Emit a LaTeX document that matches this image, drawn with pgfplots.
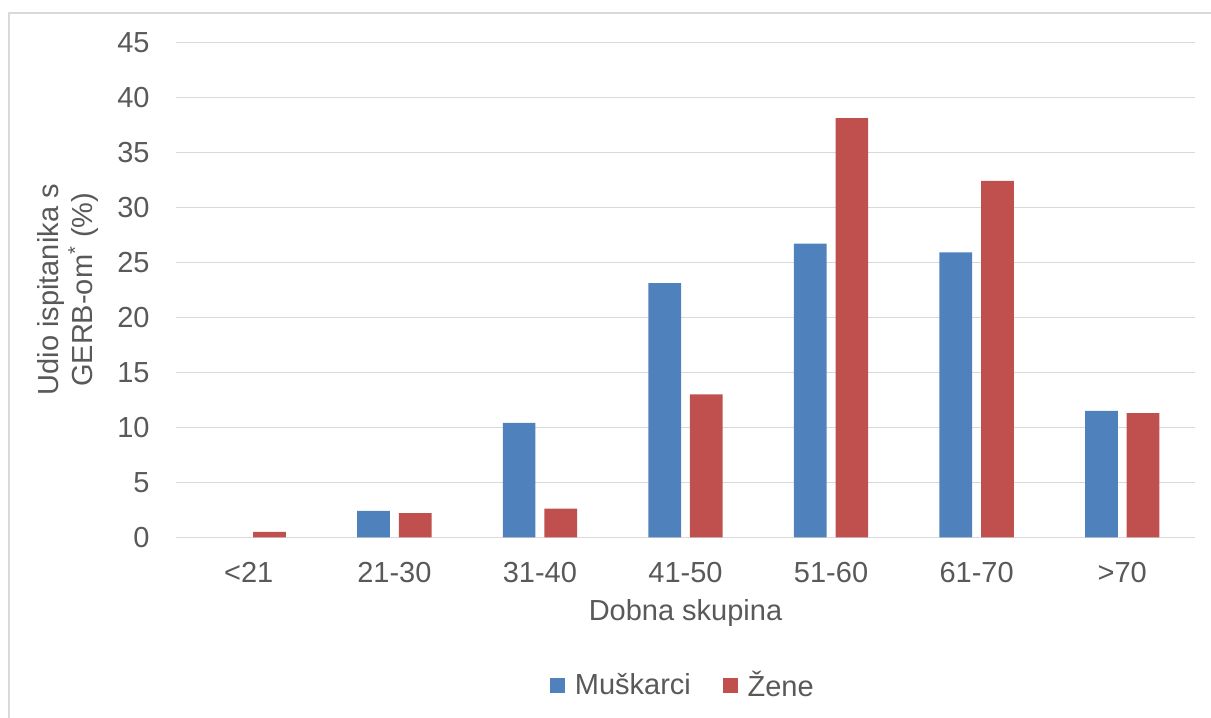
\documentclass[border=0pt]{standalone}
\usepackage{fontspec}
\setmainfont{Liberation Sans}
\usepackage{pgfplots}
\pgfplotsset{compat=1.18}
\definecolor{muski}{HTML}{4F81BD}
\definecolor{zene}{HTML}{C0504D}
\definecolor{txt}{HTML}{595959}
\definecolor{grd}{HTML}{D9D9D9}
\begin{document}
\begin{tikzpicture}
\useasboundingbox (0,0) rectangle (605.5pt,359pt);
\draw[grd, line width=0.8pt] (4.5pt,0) -- (4.5pt,352.5pt) -- (605.5pt,352.5pt);
\begin{axis}[
  at={(88pt,90.35pt)}, anchor=south west,
  scale only axis,
  width=509.5pt, height=247.5pt,
  ybar=4.45pt, bar width=16.35pt,
  xmin=-0.5, xmax=6.5,
  ymin=0, ymax=45,
  ytick={0,5,...,45},
  xtick={0,...,6},
  xticklabels={<21,21-30,31-40,41-50,51-60,61-70,>70},
  major tick length=0pt,
  axis x line*=bottom, axis y line*=left,
  x axis line style={grd, line width=0.75pt},
  y axis line style={draw=none},
  ymajorgrids=true,
  grid style={grd, line width=0.75pt},
  font=\fontsize{14.5}{17}\selectfont,
  /pgf/number format/assume math mode=true,
  tick label style={txt},
  yticklabel style={anchor=east, inner sep=0pt, xshift=-13pt},
  xticklabel style={anchor=center, inner sep=0pt, yshift=-17.5pt},
  xlabel={Dobna skupina},
  xlabel style={txt, at={(axis description cs:0.5,-0.1535)}, anchor=center, inner sep=0pt},
  ylabel={Udio ispitanika s\\GERB-om\textsuperscript{*} (\%)},
  ylabel style={txt, align=center, at={(axis description cs:-0.106,0.5)}, anchor=center, inner sep=0pt},
  legend columns=2,
  legend style={at={(axis description cs:0.4985,-0.299)}, anchor=center, draw=none,
    text=txt, font=\fontsize{14.5}{17}\selectfont,
    /tikz/every even column/.append style={column sep=14pt}},
  legend image code/.code={\fill[#1] (0pt,-3.675pt) rectangle (7.35pt,3.675pt); \path (10.35pt,0pt);},
]
\addplot[fill=muski, draw=none] coordinates {
(1,2.4) (2,10.4) (3,23.1) (4,26.7) (5,25.9) (6,11.5)
};
\addplot[fill=zene, draw=none] coordinates {
(0,0.5) (1,2.2) (2,2.6) (3,13.0) (4,38.1) (5,32.4) (6,11.3)
};
\legend{Muškarci,Žene}
\end{axis}
\end{tikzpicture}
\end{document}
